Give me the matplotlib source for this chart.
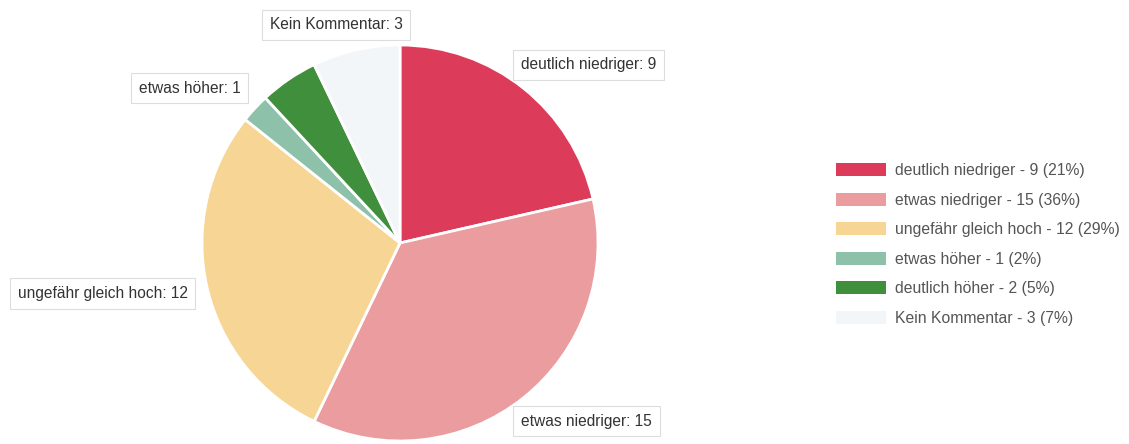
import numpy as np
import matplotlib.pyplot as plt
from matplotlib.patches import Patch

plt.rcParams['font.family'] = ['Liberation Sans', 'DejaVu Sans']

categories = ['deutlich niedriger', 'etwas niedriger', 'ungefähr gleich hoch',
              'etwas höher', 'deutlich höher', 'Kein Kommentar']
counts = [9, 15, 12, 1, 2, 3]
colors = ['#dc3c5a', '#eb9c9f', '#f7d594', '#8ec1a9', '#408f3d', '#f3f6f8']
show_label = [True, True, True, True, False, True]

W, H = 1129, 444
fig = plt.figure(figsize=(W / 100, H / 100), dpi=100)

# pie centre and radius in pixels
cx, cy, r = 400, 243, 198
ax = fig.add_axes([(cx - r) / W, (H - cy - r) / H, 2 * r / W, 2 * r / H])

wedges, _ = ax.pie(counts, colors=colors, startangle=90, counterclock=False,
                   radius=1, wedgeprops=dict(edgecolor='white', linewidth=2))
ax.set_xlim(-1, 1)
ax.set_ylim(-1, 1)
ax.set_aspect('equal')
ax.axis('off')

total = sum(counts)
for w, cat, n, show in zip(wedges, categories, counts, show_label):
    if not show:
        continue
    mid = np.deg2rad((w.theta1 + w.theta2) / 2)
    x, y = np.cos(mid), np.sin(mid)
    if x > 0.3:
        ha, rx, ry = 'left', 0.98, 1.15
    elif x < -0.3:
        ha, rx, ry = 'right', 1.1, 1.15
    else:
        ha, rx, ry = 'center', 1.45, 1.13
    ax.text(rx * x, ry * y, f'{cat}: {n}', ha=ha, va='center', fontsize=11.2,
            color='#333333', clip_on=False,
            bbox=dict(boxstyle='square,pad=0.5', fc='white', ec='#dddddd', lw=0.8))

handles = [Patch(facecolor=c, edgecolor='none') for c in colors]
labels = [f'{cat} - {n} ({round(100 * n / total)}%)' for cat, n in zip(categories, counts)]
fig.legend(handles, labels, loc='upper left', bbox_to_anchor=(836 / W, 1 - 163 / H),
           frameon=False, fontsize=11.3, handlelength=3.2, handleheight=0.9,
           labelspacing=0.93, handletextpad=0.55, borderpad=0, borderaxespad=0,
           labelcolor='#555555')

fig.savefig('out.png', dpi=100)
